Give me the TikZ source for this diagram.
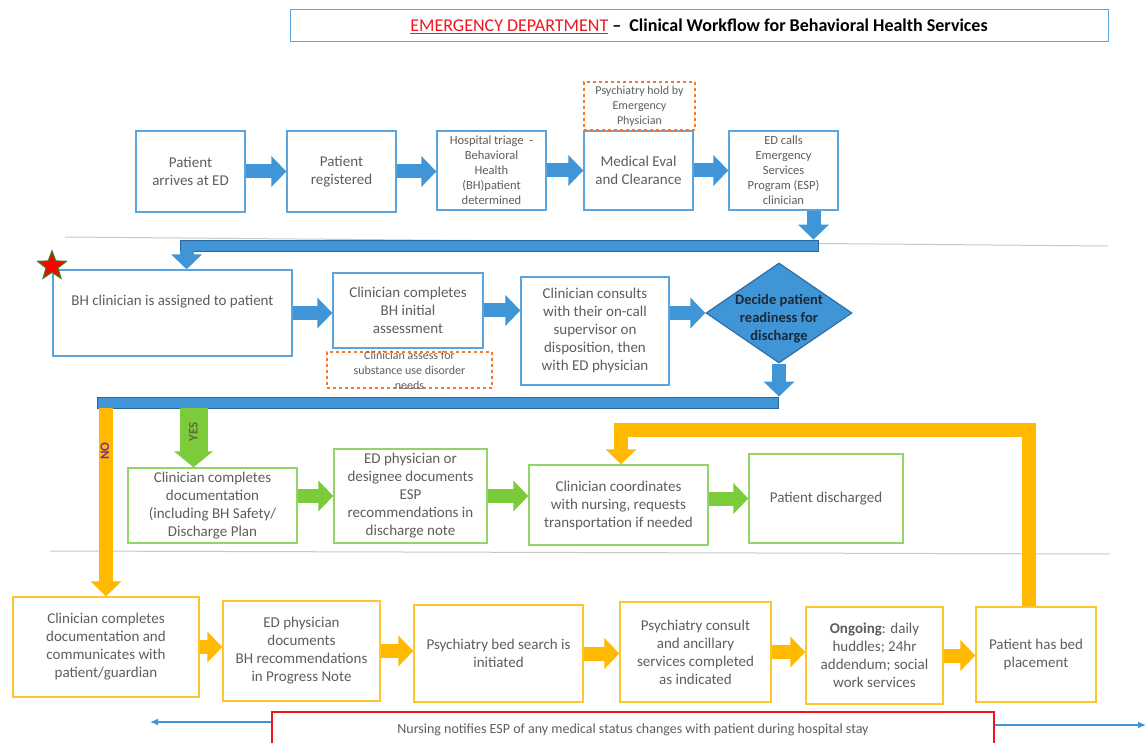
\documentclass[tikz,border=0pt]{standalone}
\usepackage{fontspec}
\setmainfont{Carlito}
\usetikzlibrary{arrows.meta,shapes.geometric,positioning}

\definecolor{boxblue}{HTML}{5AA5DD}
\definecolor{flowblue}{HTML}{3F95D5}
\definecolor{bardark}{HTML}{2B669C}
\definecolor{diamondedge}{HTML}{2F6FA8}
\definecolor{decidetext}{HTML}{1B2838}
\definecolor{boxgreen}{HTML}{92D468}
\definecolor{flowgreen}{HTML}{7CCB3A}
\definecolor{boxorange}{HTML}{FFC52E}
\definecolor{floworange}{HTML}{FFB900}
\definecolor{noteorange}{HTML}{F07A30}
\definecolor{titlered}{HTML}{F0141E}
\definecolor{txtgray}{HTML}{5E5E5E}
\definecolor{notag}{HTML}{7030A0}
\definecolor{yestext}{HTML}{5C6E3A}
\definecolor{stargreen}{HTML}{3E7A1E}

\begin{document}
\begin{tikzpicture}[x=1pt, y=-1pt,
    dims/.style 2 args={minimum width=#1pt, minimum height=#2pt},
    box/.style={draw, line width=1.3pt, fill=white, inner sep=0pt, align=center,
      text=txtgray, font=\fontsize{15}{18}\selectfont},
    bluebox/.style={box, draw=boxblue},
    greenbox/.style={box, draw=boxgreen},
    orangebox/.style={box, draw=boxorange},
    small/.style={font=\fontsize{12.5}{15}\selectfont},
    flow/.style={line width=14pt, -{Triangle[length=15pt,width=30pt]}},
    blueflow/.style={flow, draw=flowblue},
    greenflow/.style={flow, draw=flowgreen},
    orangeflow/.style={flow, draw=floworange}]
  \tikzset{note/.style={draw=noteorange, dashed, line width=1.2pt, inner sep=0pt},
    notetext/.style={align=center, text=txtgray, inner sep=0pt, font=\fontsize{12}{15}\selectfont},
    bar/.style={fill=flowblue, draw=bardark, line width=0.8pt, inner sep=0pt},
    divider/.style={draw=black!22, line width=1pt},
    tag/.style={rotate=90, font=\bfseries\fontsize{13}{14}\selectfont, inner sep=0pt}}
  \useasboundingbox (0,0) rectangle (1146,743);

  % section dividers
  \draw[divider] (65,237) -- (1108,246);
  \draw[divider] (50,551) -- (1110,554);

  % title
  \node[draw=boxblue, line width=1pt, inner sep=0pt, dims={818}{32},
    font=\fontsize{18}{20}\selectfont] (title) at (699,26)
    {\textcolor{titlered}{\underline{EMERGENCY DEPARTMENT}}\ \textbf{\textendash\ \ Clinical Workflow for Behavioral Health Services}};

  % arrival and triage
  \node[bluebox, dims={109}{81}] (arrive) at (190.5,171.5) {Patient\\arrives at ED};
  \node[bluebox, dims={109}{81}] (register) at (341.5,171.5) {Patient\\registered};
  \node[bluebox, small, dims={109}{79}] (triage) at (491.5,170.5) {Hospital triage \ -\\Behavioral\\Health\\(BH)patient\\determined};
  \node[bluebox, dims={109}{79}] (medeval) at (638.5,170.5) {Medical Eval\\and Clearance};
  \node[bluebox, small, dims={109}{79}] (espcall) at (783.5,170.5) {ED calls\\Emergency\\Services\\Program (ESP)\\clinician};
  \node[note, dims={111}{48}] (hold) at (639.5,106) {};
  \node[notetext] (holdtext) at (hold.center) {Psychiatry hold by\\Emergency\\Physician};

  \draw[blueflow] (arrive.east) -- (arrive.east -| register.west);
  \draw[blueflow] (register.east) -- (register.east -| triage.west);
  \draw[blueflow] (triage.east) -- (triage.east -| medeval.west);
  \draw[blueflow] (medeval.east) -- (medeval.east -| espcall.west);

  \node[bar, dims={638}{11}] (bar1) at (499,245.5) {};
  \coordinate (espout) at ([xshift=30pt]espcall.south);
  \draw[blueflow] (espout) -- (espout |- bar1.north);

  % ESP assessment
  \node[bluebox, dims={239}{86}] (assign) at (172.5,313) {BH clinician is assigned to patient\\[8pt]};
  \node[star, star points=5, star point ratio=2.4, fill=red, draw=stargreen, line width=1.2pt,
    minimum size=30pt, inner sep=0pt] (flag) at (52,266) {};
  \node[bluebox, dims={150}{75}] (initial) at (408,310.5) {Clinician completes\\BH initial\\assessment};
  \node[note, dims={165}{36}] (sud) at (409.5,370) {};
  \node[notetext] (sudtext) at (sud.center) {Clinician assess for\\substance use disorder\\needs};
  \node[bluebox, dims={148}{108}] (consult) at (595,331) {Clinician consults\\with their on-call\\supervisor on\\disposition, then\\with ED physician};
  \node[diamond, draw=diamondedge, fill=flowblue, line width=1.2pt, dims={146}{100},
    inner sep=0pt] (decide) at (779,313) {};
  \node[align=center, text=decidetext, inner sep=0pt, font=\bfseries\fontsize{14.5}{18}\selectfont]
    (decidetext) at ([yshift=-6pt]decide.center) {Decide patient\\readiness for\\discharge};

  \coordinate (bar1drop) at ([xshift=7pt]bar1.south west);
  \draw[blueflow] (bar1drop) -- (bar1drop |- assign.north);
  \draw[blueflow] (assign.east) -- (assign.east -| initial.west);
  \draw[blueflow] (initial.east) -- (initial.east -| consult.west);
  \draw[blueflow] (decide.west -| consult.east) -- (decide.west);

  \node[bar, dims={681}{11}] (bar2) at (437.5,402.5) {};
  \draw[blueflow] (decide.south) -- (decide.south |- bar2.north);

  % discharge path
  \node[greenbox, dims={169}{75}] (doc) at (212.5,505.5) {Clinician completes\\documentation\\(including BH Safety/\\Discharge Plan};
  \node[greenbox, dims={153}{94}] (ednote) at (410.5,496) {ED physician or\\designee documents\\ESP\\recommendations in\\discharge note};
  \node[greenbox, dims={179}{80}] (coord) at (618.5,505) {Clinician coordinates\\with nursing, requests\\transportation if needed};
  \node[greenbox, dims={154}{89}] (discharged) at (826,498.5) {Patient discharged};

  \coordinate (yesdrop) at (193.5,408);
  \draw[greenflow, line width=28pt, -{Triangle[length=16pt,width=38pt]}] (yesdrop) -- (yesdrop |- doc.north);
  \node[tag, text=yestext] (yes) at (193.5,432) {YES};
  \draw[greenflow] (ednote.west -| doc.east) -- (ednote.west);
  \draw[greenflow] (ednote.east) -- (ednote.east -| coord.west);
  \draw[greenflow] (discharged.west -| coord.east) -- (discharged.west);

  % admission path
  \node[orangebox, dims={186}{100}] (careplan) at (106,647) {Clinician completes\\documentation and\\communicates with\\patient/guardian};
  \node[orangebox, dims={157}{100}] (progress) at (301.5,651) {ED physician\\documents\\BH recommendations\\in Progress Note};
  \node[orangebox, dims={169}{97}] (bedsearch) at (498.5,653.5) {Psychiatry bed search is\\initiated};
  \node[orangebox, dims={151}{100}] (psychconsult) at (695.5,652) {Psychiatry consult\\and ancillary\\services completed\\as indicated};
  \node[orangebox, dims={137}{97}] (ongoing) at (874.5,655.5) {\textbf{Ongoing}: daily\\huddles; 24hr\\addendum; social\\work services};
  \node[orangebox, dims={120}{95}] (placed) at (1036,654.5) {Patient has bed\\placement};

  \draw[orangeflow] (careplan.north |- bar2.south) -- (careplan.north);
  \node[tag, text=notag] (no) at (105,451) {NO};
  \draw[orangeflow] (careplan.east) -- (careplan.east -| progress.west);
  \draw[orangeflow] (progress.east) -- (progress.east -| bedsearch.west);
  \draw[orangeflow] (bedsearch.east) -- (bedsearch.east -| psychconsult.west);
  \draw[orangeflow] (psychconsult.east) -- (psychconsult.east -| ongoing.west);
  \draw[orangeflow] (ongoing.east) -- (ongoing.east -| placed.west);

  \coordinate (loopturn) at (621,430);
  \draw[orangeflow] ([xshift=-7pt]placed.north) |- (loopturn) -- (loopturn |- coord.north);

  % nursing notice
  \node[draw=titlered, line width=1.2pt, inner sep=0pt, text=txtgray, dims={722}{36},
    font=\fontsize{14}{16}\selectfont] (nurse) at (633,730)
    {Nursing notifies ESP of any medical status changes with patient during hospital stay};
  \coordinate (nurseleft) at (150,722);
  \coordinate (nurseright) at (1146,725);
  \draw[draw=flowblue, line width=1.3pt, -{Latex[length=8pt,width=7pt]}] (nurse.west |- nurseleft) -- (nurseleft);
  \draw[draw=flowblue, line width=1.3pt, -{Latex[length=8pt,width=7pt]}] (nurse.east |- nurseright) -- (nurseright);
\end{tikzpicture}
\end{document}
